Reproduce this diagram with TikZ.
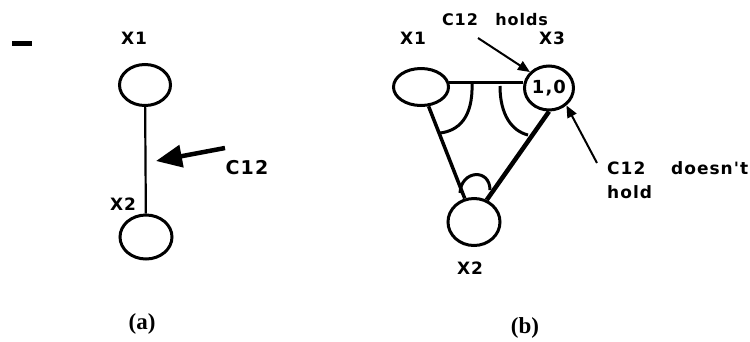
\documentclass[tikz,border=0pt]{standalone}
\usepackage{fontspec}
\setmainfont{Liberation Serif}
\newfontfamily\lblfont[LetterSpace=6]{DejaVu Sans Bold}
\usetikzlibrary{shapes.geometric,arrows.meta,positioning}

\begin{document}
\begin{tikzpicture}[
x=1pt, y=-1pt,
var/.style={ellipse, draw=black, line width=3pt, inner sep=0pt},
lbl/.style={inner sep=0pt, font=\lblfont\fontsize{17}{24}\selectfont},
caption/.style={inner sep=0pt, font=\bfseries\fontsize{23}{26}\selectfont},
thinarrow/.style={-{Triangle[length=12pt,width=10pt]}, line width=2pt},
bigarrow/.style={-{Triangle[length=26pt,width=22pt]}, line width=4.5pt},
anglemark/.style={line width=3pt}
]
\useasboundingbox (0,0) rectangle (750,341);
\draw[line width=5pt] (12,43) -- (32,43);

\node[var, minimum width=51pt, minimum height=41pt] (a1) at (145,85) {};
\node[var, minimum width=52pt, minimum height=44pt] (a2) at (146,237) {};
\node[lbl] (a1lbl) at (134,38) {X1};
\node[lbl] (a2lbl) at (123,204) {X2};
\node[lbl, font=\lblfont\fontsize{19}{20}\selectfont] (c12) at (247,168) {C12};
\coordinate (c12tail) at (225,148);
\coordinate (c12tip) at (156,161);
\draw[line width=2.2pt] (a1) -- (a2);
\draw[bigarrow] (c12tail) -- (c12tip);
\node[caption] (capa) at (142,324) {(a)};

\node[var, minimum width=55pt, minimum height=37pt] (b1) at (421,87) {};
\node[var, minimum width=49pt, minimum height=44pt, font=\lblfont\fontsize{18}{20}\selectfont] (b3) at (549,88) {1,0};
\node[var, minimum width=52pt, minimum height=47pt] (b2) at (474,222) {};
\node[lbl] (b1lbl) at (413,38) {X1};
\node[lbl] (b3lbl) at (552,38) {X3};
\node[lbl] (b2lbl) at (470,268) {X2};
\node[lbl, font=\lblfont\fontsize{16}{20}\selectfont, text width=106pt, align=left] (holds) at (495,20) {C12\hfill holds};
\node[lbl, text width=141pt, align=left, anchor=north west] (nohold) at (607,161) {C12\hfill doesn't\\hold};
\coordinate (holdtail) at (478,38);
\coordinate (noholdtail) at (597,163);

\draw[line width=3pt] (b1.10) -- (b1.10 -| b3.west);
\draw[line width=3.5pt] (b1) -- (b2);
\draw[line width=4.5pt] (b3.south) -- (b2.60);
\draw[anglemark] (472,84) .. controls (473,118) and (458,131) .. (440,133);
\draw[anglemark] (500,86) .. controls (500,115) and (512,131) .. (528,135);
\draw[anglemark] (460,193) .. controls (461,170) and (490,168) .. (490,190);
\draw[thinarrow] (holdtail) -- (b3.140);
\draw[thinarrow] (noholdtail) -- (b3.315);
\node[caption] (capb) at (525,328) {(b)};
\end{tikzpicture}
\end{document}
